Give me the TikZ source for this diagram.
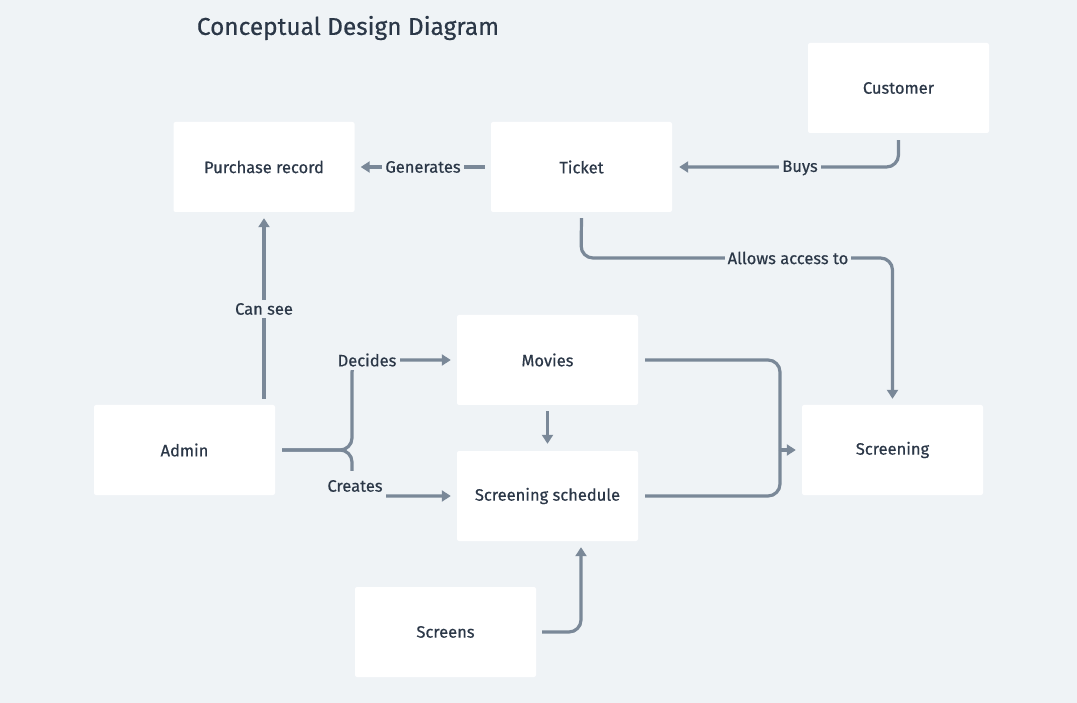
\documentclass[tikz,border=0pt]{standalone}
\usepackage{fontspec}
\setmainfont{Fira Sans}
\newfontfamily\boxfont{Fira Sans}[FakeBold=0.5]
\usetikzlibrary{arrows.meta, positioning}
\definecolor{bgcol}{HTML}{EFF3F6}
\definecolor{linecol}{HTML}{7A8898}
\definecolor{textcol}{HTML}{2B3747}
\tikzset{
  entity/.style = {
    fill = white, rounded corners = 2pt, minimum width = 181pt, minimum height = 90pt,
    text = textcol, font = \boxfont\fontsize{16.5}{19}\selectfont
  },
  conn/.style = {
    draw = linecol, line width = 3.2pt, rounded corners = 12pt,
    -{Triangle[length=9pt, width=11pt]}
  },
  plain conn/.style = {draw = linecol, line width = 3.2pt, rounded corners = 12pt},
  tag/.style = {
    fill = bgcol, text = textcol, inner sep = 3pt, font = \boxfont\fontsize{16.5}{19}\selectfont
  }
}

\begin{document}
\begin{tikzpicture}[x=1pt, y=-1pt]

  % Background
  \fill[bgcol] (0,0) rectangle (1077,703);
  \useasboundingbox (0,0) rectangle (1077,703);

  % Title
  \node[text = textcol, font = \boxfont\fontsize{24.4}{28}\selectfont] (title) at (348,28) {Conceptual Design Diagram};

  % Entities
  \node[entity] (purchase) at (264,167) {Purchase record};
  \node[entity] (ticket) at (581.5,167) {Ticket};
  \node[entity] (customer) at (898.5,88) {Customer};
  \node[entity] (movies) at (547.5,360) {Movies};
  \node[entity] (admin) at (184.5,450) {Admin};
  \node[entity] (schedule) at (547.5,496) {Screening schedule};
  \node[entity] (screening) at (892.5,450) {Screening};
  \node[entity] (screens) at (445.5,632) {Screens};

  % Helper points
  \coordinate (fork) at (352,450);
  \coordinate (merge) at (780,450);

  % Ticket and purchase
  \draw[conn] ([xshift=-6pt]ticket.west) -- ([xshift=6pt]purchase.east);
  \node[tag] (generates) at (423,167) {Generates};

  % Customer buys ticket
  \draw[conn] ([yshift=-7pt]customer.south) |- ([xshift=7pt]ticket.east);
  \node[tag] (buys) at (800,168) {Buys};

  % Ticket gives access
  \draw[conn] ([yshift=-6pt]ticket.south) -- (581,258) -| ([yshift=6pt]screening.north);
  \node[tag] (access) at (788,258) {Allows access to};

  % Admin sees purchases
  \draw[conn] (264,399) -- ([yshift=-6pt]purchase.south);
  \node[tag] (cansee) at (264,309) {Can see};

  % Admin decides and creates
  \draw[conn] ([xshift=7pt]admin.east) -- (fork) |- ([xshift=-6pt]movies.west);
  \draw[conn] ([xshift=7pt]admin.east) -- (fork) |- ([xshift=-6pt]schedule.west);
  \node[tag, inner xsep = 4pt] (decides) at (367,360) {Decides};
  \node[tag, inner ysep = 9pt] (creates) at (355,486) {Creates};

  % Movies to schedule
  \draw[conn] ([yshift=-6pt]movies.south) -- ([yshift=7pt]schedule.north);

  % Into screening
  \draw[plain conn] ([xshift=7pt]movies.east) -| (merge);
  \draw[plain conn] ([xshift=7pt]schedule.east) -| (merge);
  \draw[conn, rounded corners = 0pt] (merge) -- ([xshift=-6pt]screening.west);

  % Screens to schedule
  \draw[conn] ([xshift=6pt]screens.east) -| ([yshift=-6pt]schedule.south -| 581,0);

\end{tikzpicture}
\end{document}
